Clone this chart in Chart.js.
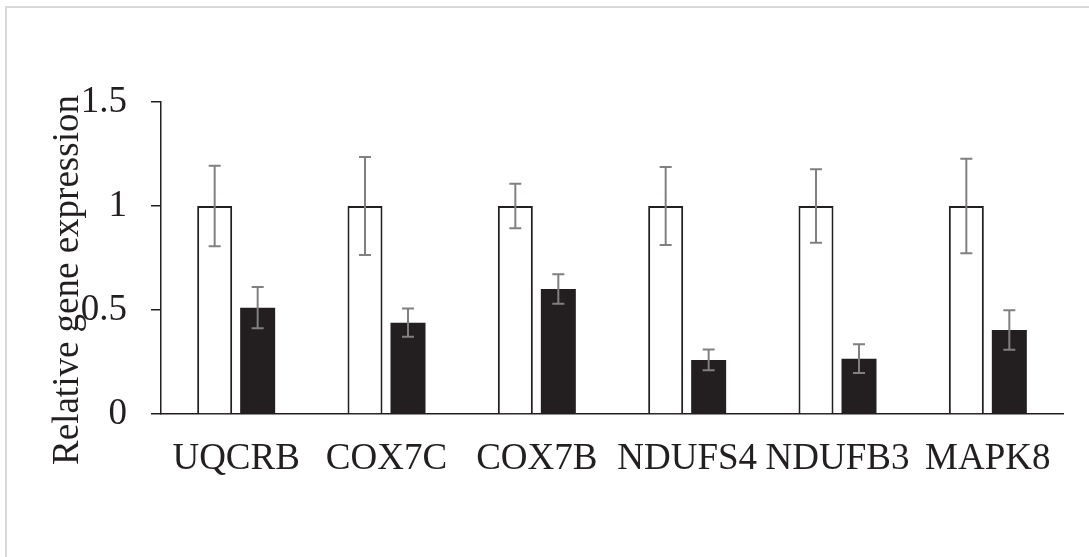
<!DOCTYPE html>
<html>
<head>
<meta charset="utf-8">
<script src="https://cdn.jsdelivr.net/npm/chart.js@4.4.1/dist/chart.umd.min.js"></script>
<style>
  html, body { margin: 0; padding: 0; background: #fff; overflow: hidden; }
  #frame { position: absolute; left: 5px; top: 6px; width: 1200px; height: 700px;
           border-top: 2px solid #d9d9d9; border-left: 2px solid #d9d9d9; }
  #myChart { position: absolute; left: 0; top: 0; }
</style>
</head>
<body>
<div id="frame"></div>
<canvas id="myChart" width="1089" height="557"></canvas>
<script>
// data
const genes = ["UQCRB", "COX7C", "COX7B", "NDUFS4", "NDUFB3", "MAPK8"];
const controlValues = [1, 1, 1, 1, 1, 1];
const controlErrors = [0.193, 0.236, 0.107, 0.187, 0.177, 0.227];
const treatedValues = [0.511, 0.439, 0.601, 0.260, 0.266, 0.404];
const treatedErrors = [0.099, 0.068, 0.071, 0.050, 0.069, 0.095];
const yTicks = [0, 0.5, 1, 1.5];

const ink = "#231f20";
const fontFamily = "'Liberation Serif', 'Times New Roman', serif";

// error bars drawn on top of the bars
const errorBars = {
  id: "errorBars",
  afterDatasetsDraw(chart) {
    const ctx = chart.ctx;
    const y = chart.scales.y;
    const errs = [controlErrors, treatedErrors];
    ctx.save();
    ctx.strokeStyle = "#808080";
    ctx.lineWidth = 2;
    chart.data.datasets.forEach((ds, d) => {
      const meta = chart.getDatasetMeta(d);
      meta.data.forEach((bar, i) => {
        const v = ds.data[i];
        const top = y.getPixelForValue(v + errs[d][i]);
        const bot = y.getPixelForValue(v - errs[d][i]);
        ctx.beginPath();
        ctx.moveTo(bar.x, top); ctx.lineTo(bar.x, bot);
        ctx.moveTo(bar.x - 6, top); ctx.lineTo(bar.x + 6, top);
        ctx.moveTo(bar.x - 6, bot); ctx.lineTo(bar.x + 6, bot);
        ctx.stroke();
      });
    });
    ctx.restore();
  }
};

// y axis title, sits over the tick labels like in the original
const yTitle = {
  id: "yTitle",
  afterDraw(chart) {
    const ctx = chart.ctx;
    ctx.save();
    ctx.translate(68, 280);
    ctx.rotate(-Math.PI / 2);
    ctx.font = "37px " + fontFamily;
    ctx.fillStyle = ink;
    ctx.textAlign = "center";
    ctx.textBaseline = "middle";
    ctx.fillText("Relative gene expression", 0, 0);
    ctx.restore();
  }
};

const data = {
  labels: genes,
  datasets: [
    {
      label: "Control",
      data: controlValues,
      backgroundColor: "#ffffff",
      borderColor: ink,
      borderWidth: 2,
      categoryPercentage: 0.572,
      barPercentage: 0.814
    },
    {
      label: "Treated",
      data: treatedValues,
      backgroundColor: ink,
      borderWidth: 0,
      categoryPercentage: 0.572,
      barPercentage: 0.814
    }
  ]
};

const config = {
  type: "bar",
  data: data,
  options: {
    responsive: false,
    animation: false,
    layout: { padding: { left: 0, top: 102, right: 26, bottom: 0 } },
    plugins: {
      legend: { display: false },
      tooltip: { enabled: false }
    },
    scales: {
      x: {
        grid: { display: false, drawTicks: false },
        border: { display: true, color: ink, width: 1.5 },
        ticks: {
          color: ink,
          padding: 23,
          maxRotation: 0,
          autoSkip: false,
          font: { family: fontFamily, size: 37 }
        },
        afterFit: function (scale) { scale.height = 143; }
      },
      y: {
        min: 0,
        max: 1.5,
        afterBuildTicks: function (scale) {
          scale.ticks = yTicks.map(v => ({ value: v }));
        },
        grid: { drawOnChartArea: false, drawTicks: true, tickLength: 10, color: ink, lineWidth: 1.5 },
        border: { display: true, color: ink, width: 1.5 },
        ticks: {
          color: ink,
          padding: 24,
          font: { family: fontFamily, size: 37 },
          callback: function (value) { return String(value); }
        },
        afterFit: function (scale) { scale.width = 161; }
      }
    }
  },
  plugins: [errorBars, yTitle]
};

const myChart = new Chart(document.getElementById("myChart"), config);
</script>
</body>
</html>
